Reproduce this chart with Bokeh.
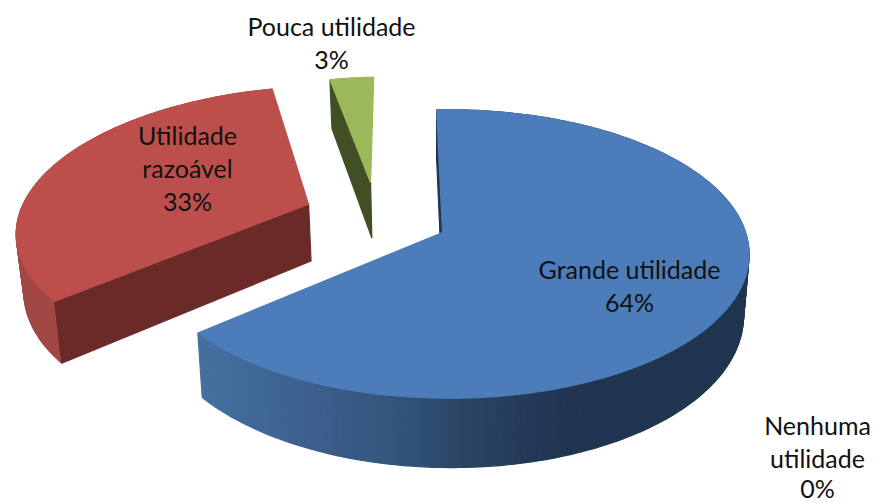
import numpy as np
from bokeh.plotting import figure
from bokeh.models import Range1d, ColumnDataSource
from bokeh.core.properties import value
from bokeh.embed import file_html
from bokeh.resources import INLINE

# data
categories = ["Grande utilidade", "Nenhuma utilidade", "Utilidade razoável", "Pouca utilidade"]
percents = [64, 0, 33, 3]

# style
top_colors = {"Grande utilidade": "#4c7cb9", "Utilidade razoável": "#bc4f4c", "Pouca utilidade": "#9bb958"}
cut_colors = {"Grande utilidade": "#1f3550", "Utilidade razoável": "#6a2a28", "Pouca utilidade": "#424f24"}
explode = {"Grande utilidade": (0.0, 0.0), "Nenhuma utilidade": (0.0, 0.0),
           "Utilidade razoável": (-0.469, 0.208), "Pouca utilidade": (-0.257, 0.376)}
radius = {"Grande utilidade": 1.0, "Nenhuma utilidade": 1.0, "Utilidade razoável": 1.03, "Pouca utilidade": 0.95}
label_lines = ["Pouca utilidade", "3%", "Utilidade", "razoável", "33%", "Grande utilidade", "64%", "Nenhuma", "utilidade", "0%"]
label_x = [331, 331, 187, 187, 187, 629, 629, 817, 817, 817]
label_y = [25, 58, 134, 167, 200, 268, 301, 424, 457, 487]

# projection of the pie plane
CX, CY, RX, RY, K, KU = 442.0, 232.0, 297.0, 141.0, 0.149, -0.02
DEPTH, SHRINK = 59.0, 0.018
START = -1.3
blue_x = [200, 300, 400, 460, 520, 570, 760]
blue_rgb = [(68, 112, 160), (61, 97, 144), (51, 83, 122), (43, 69, 102), (37, 58, 88), (32, 53, 80), (32, 53, 80)]


def project(u, v):
    w = 1 + K * v + KU * u
    return CX + RX * u / w, CY - RY * v / w


def lower(u, v):
    x, y = project(u, v)
    w = 1 + K * np.asarray(v) + KU * np.asarray(u)
    return CX + (x - CX) * (1 - SHRINK), y + DEPTH / w


def hexrgb(c):
    return "#%02x%02x%02x" % tuple(int(round(a)) for a in c)


xs, ys, cols = [], [], []


def add(x, y, c):
    xs.append(list(np.asarray(x, float)))
    ys.append(list(np.asarray(y, float)))
    cols.append(c)


angle = START
slices = []
for name, pct in zip(categories, percents):
    sweep = pct * 3.6
    slices.append((name, angle, angle + sweep))
    angle += sweep

for name in ["Pouca utilidade", "Utilidade razoável", "Grande utilidade"]:
    _, a0, a1 = [s for s in slices if s[0] == name][0]
    ox, oy = explode[name]
    r = radius[name]
    th = np.radians(np.linspace(a0, a1, max(int(a1 - a0), 3) + 1))
    u, v = ox + r * np.sin(th), oy + r * np.cos(th)
    tx, ty = project(u, v)
    bx, by = lower(u, v)
    ax, ay = project(np.array([ox]), np.array([oy]))
    cx_, cy_ = lower(np.array([ox]), np.array([oy]))
    # outer wall
    if name != "Pouca utilidade":
        for i in range(len(th) - 1):
            if name == "Grande utilidade":
                xm = 0.5 * (tx[i] + tx[i + 1])
                rgb = [np.interp(xm, blue_x, [c[j] for c in blue_rgb]) for j in range(3)]
                col = hexrgb(rgb)
            else:
                col = "#a14845"
            add([tx[i], tx[i + 1], bx[i + 1], bx[i]], [ty[i], ty[i + 1], by[i + 1], by[i]], col)
    # cut face towards the viewer
    add([ax[0], tx[0], bx[0], cx_[0]], [ay[0], ty[0], by[0], cy_[0]], cut_colors[name])
    # top face
    add(np.r_[ax, tx], np.r_[ay, ty], top_colors[name])

p = figure(width=875, height=503, x_range=Range1d(0, 875), y_range=Range1d(503, 0),
           output_backend="svg", toolbar_location=None, min_border=0)
p.axis.visible = False
p.grid.visible = False
p.outline_line_color = None
p.background_fill_color = "white"

p.patches("xs", "ys", source=ColumnDataSource(dict(xs=xs, ys=ys, c=cols)),
          fill_color="c", line_color="c", line_width=1.2)
p.text(label_x, label_y, text=label_lines,
       text_align="center", text_baseline="middle",
       text_font=value("Lato"), text_font_size="25px", text_color="#111111")

open("out.html", "w").write(file_html(p, INLINE))
